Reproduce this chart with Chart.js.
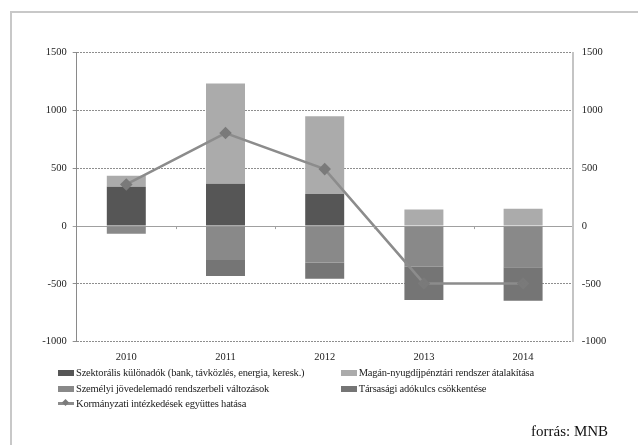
<!DOCTYPE html>
<html>
<head>
<meta charset="utf-8">
<script src="https://cdn.jsdelivr.net/npm/chart.js@4.4.0/dist/chart.umd.min.js"></script>
<style>
  body { margin: 0; background: #fff; }
  #wrap { position: relative; width: 638px; height: 445px; overflow: hidden; font-family: "Liberation Serif", serif; }
  #frame { position: absolute; left: 10px; top: 11px; width: 700px; height: 500px; border-top: 2px solid #c8c8c8; border-left: 2px solid #c8c8c8; }
  canvas { position: absolute; left: 0; top: 0; }
  .leg { position: absolute; font-size: 10.5px; color: #222; white-space: nowrap; line-height: 12px; letter-spacing: -0.2px; }
  .box { display: inline-block; width: 16px; height: 6px; vertical-align: middle; margin-right: 2px; position: relative; top: -1px; }
  .lin { display: inline-block; width: 16px; height: 3px; vertical-align: middle; margin-right: 2px; position: relative; top: -1px; }
  .dia { position: absolute; left: 5px; top: -2px; width: 5px; height: 5px; transform: rotate(45deg); }
  #source { position: absolute; left: 531px; top: 423px; font-size: 15px; color: #111; }
</style>
</head>
<body>
<div id="wrap">
  <div id="frame"></div>
  <canvas id="chart" width="638" height="445"></canvas>
  <div id="legend"></div>
  <div id="source">forrás: MNB</div>
</div>
<script>
// Years on the x axis
const years = ["2010", "2011", "2012", "2013", "2014"];

// Series values (milliárd Ft)
const szektoralis = [340, 366, 277, 0, 0];
const maganNyugdij = [95, 868, 674, 144, 150];
const szemelyiJovedelem = [-67, -294, -314, -352, -355];
const tarsasagiAdo = [0, -138, -142, -288, -291];
const egyuttesHatas = [360, 805, 493, -496, -496];

// Axis range
const yMin = -1000;
const yMax = 1500;
const yStep = 500;

const tickFont = { family: "Liberation Serif", size: 10.5 };

function barSet(label, data, color) {
  return {
    type: "bar",
    label: label,
    data: data,
    backgroundColor: color,
    borderWidth: 0,
    stack: "s",
    order: 1,
    categoryPercentage: 1,
    barPercentage: 0.393
  };
}

// small tick marks under the zero line, between the years
const zeroTicks = {
  id: "zeroTicks",
  afterDatasetsDraw(chart) {
    const x = chart.scales.x;
    const y0 = chart.scales.y.getPixelForValue(0);
    const c = chart.ctx;
    c.save();
    c.strokeStyle = "#a0a0a0";
    c.lineWidth = 1;
    for (let i = 1; i < years.length; i++) {
      const px = Math.round((x.getPixelForTick(i - 1) + x.getPixelForTick(i)) / 2) + 0.5;
      c.beginPath();
      c.moveTo(px, y0);
      c.lineTo(px, y0 + 3);
      c.stroke();
    }
    c.restore();
  }
};

const ctx = document.getElementById("chart").getContext("2d");
const chart = new Chart(ctx, {
  data: {
    labels: years,
    datasets: [
      barSet("Szektorális különadók (bank, távközlés, energia, keresk.)", szektoralis, "#565656"),
      barSet("Magán-nyugdíjpénztári rendszer átalakítása", maganNyugdij, "#ababab"),
      barSet("Személyi jövedelemadó rendszerbeli változások", szemelyiJovedelem, "#898989"),
      barSet("Társasági adókulcs csökkentése", tarsasagiAdo, "#757575"),
      {
        type: "line",
        label: "Kormányzati intézkedések együttes hatása",
        data: egyuttesHatas,
        borderColor: "#8c8c8c",
        borderWidth: 2.5,
        pointStyle: "rectRot",
        pointRadius: 4.5,
        pointBackgroundColor: "#7a7a7a",
        pointBorderColor: "#7a7a7a",
        order: 0,
        yAxisID: "y"
      }
    ]
  },
  plugins: [zeroTicks],
  options: {
    responsive: false,
    animation: false,
    layout: { padding: { top: 52.7, left: 0, right: 0, bottom: 0 } },
    plugins: {
      legend: { display: false },
      tooltip: { enabled: false }
    },
    scales: {
      x: {
        stacked: true,
        grid: { display: false, drawTicks: false },
        border: { display: false },
        ticks: { font: tickFont, color: "#222", padding: 9, maxRotation: 0 },
        afterFit: function(scale) { scale.height = 103.3; }
      },
      y: {
        stacked: true,
        position: "left",
        min: yMin,
        max: yMax,
        ticks: {
          stepSize: yStep, font: tickFont, color: "#222", padding: 6,
          callback: function(v) { return String(v); }
        },
        grid: {
          color: function(c) { return c.tick && c.tick.value === 0 ? "#a0a0a0" : "#8e8e8e"; },
          lineWidth: 1,
          tickLength: 4
        },
        border: {
          color: "#8a8a8a",
          width: 1,
          dash: function(c) { return c.tick && c.tick.value === 0 ? [] : [2, 1]; }
        },
        afterFit: function(scale) { scale.width = 76.7; }
      },
      y1: {
        position: "right",
        min: yMin,
        max: yMax,
        ticks: {
          stepSize: yStep, font: tickFont, color: "#222", padding: 9,
          callback: function(v) { return String(v); }
        },
        grid: { display: false, drawTicks: false },
        border: { color: "#c4c4c4", width: 2 },
        afterFit: function(scale) { scale.width = 65.3; }
      }
    }
  }
});

// Legend built from the chart's datasets, laid out in two columns
const legendEl = document.getElementById("legend");
const rowTops = [367, 383, 398];
const colLefts = [58, 340.7];
chart.data.datasets.forEach(function(ds, i) {
  const item = document.createElement("div");
  item.className = "leg";
  item.style.top = rowTops[Math.floor(i / 2)] + "px";
  item.style.left = colLefts[i % 2] + "px";
  if (ds.type === "line") {
    item.innerHTML = '<span class="lin" style="background:' + ds.borderColor + '"><span class="dia" style="background:' +
      ds.pointBackgroundColor + '"></span></span>';
  } else {
    item.innerHTML = '<span class="box" style="background:' + ds.backgroundColor + '"></span>';
  }
  item.appendChild(document.createTextNode(ds.label));
  legendEl.appendChild(item);
});
</script>
</body>
</html>
